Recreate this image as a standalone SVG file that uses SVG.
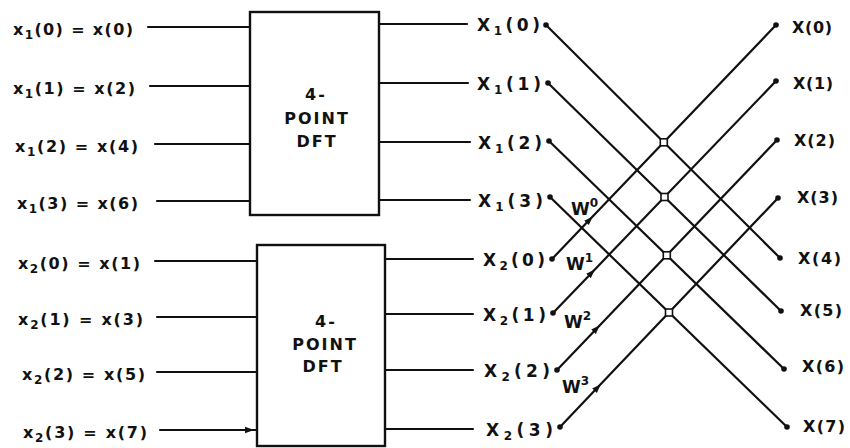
<svg xmlns="http://www.w3.org/2000/svg" width="850" height="448" viewBox="0 0 850 448">
<style>
  .ln { stroke:#111; stroke-width:2.2; fill:none; stroke-linecap:round; }
  .box { stroke:#111; stroke-width:2.4; fill:#fff; }
  .t { font-family:"DejaVu Sans","Liberation Sans",sans-serif; font-weight:bold; fill:#111; }
  .lab { font-size:16px; }
  .mid { font-size:17px; }
  .out { font-size:16px; }
  .box-t { font-size:16px; letter-spacing:2px; text-anchor:middle; }
  .w { font-size:17px; }
  .sub { font-size:12px; }
  .dot { fill:#111; }
  .sq { fill:#fff; stroke:#111; stroke-width:1.6; }
</style>
<defs>
  <marker id="arr" markerUnits="userSpaceOnUse" markerWidth="10" markerHeight="8" refX="5" refY="4" orient="auto">
    <path d="M0,0.8 L9,4 L0,7.2 z" fill="#111"/>
  </marker>
</defs>
<rect width="850" height="448" fill="#fff"/>

<g id="connectors">
  <line class="ln" x1="148" y1="27" x2="250" y2="27"/>
  <line class="ln" x1="150" y1="86" x2="250" y2="86"/>
  <line class="ln" x1="155" y1="144" x2="250" y2="144"/>
  <line class="ln" x1="157" y1="201" x2="250" y2="201"/>
  <line class="ln" x1="155" y1="261" x2="257" y2="261"/>
  <line class="ln" x1="157" y1="317" x2="257" y2="317"/>
  <line class="ln" x1="157" y1="372" x2="257" y2="372"/>
  <path class="ln" d="M160,430 L250,430 L257,430" marker-mid="url(#arr)"/>
  <line class="ln" x1="379" y1="24" x2="467" y2="24"/>
  <line class="ln" x1="379" y1="83" x2="468" y2="83"/>
  <line class="ln" x1="379" y1="142" x2="470" y2="142"/>
  <line class="ln" x1="379" y1="200" x2="470" y2="200"/>
  <line class="ln" x1="385" y1="259" x2="473" y2="259"/>
  <line class="ln" x1="385" y1="314" x2="473" y2="314"/>
  <line class="ln" x1="385" y1="370" x2="473" y2="370"/>
  <line class="ln" x1="385" y1="429" x2="473" y2="429"/>
  <line class="ln" x1="546" y1="25" x2="780" y2="258"/>
  <line class="ln" x1="548" y1="83" x2="781" y2="311"/>
  <line class="ln" x1="549" y1="141" x2="784" y2="369"/>
  <line class="ln" x1="550" y1="197" x2="787" y2="427"/>
  <path class="ln" d="M552,259 L590,219.3 L776,25" marker-mid="url(#arr)"/>
  <path class="ln" d="M553,313 L592,272.4 L776,81" marker-mid="url(#arr)"/>
  <path class="ln" d="M557,370 L597,328.2 L777,140" marker-mid="url(#arr)"/>
  <path class="ln" d="M560,427 L598,387.1 L778,198" marker-mid="url(#arr)"/>
  <rect class="sq" x="660.3" y="138.8" width="7" height="7"/>
  <rect class="sq" x="661" y="193.5" width="7" height="7"/>
  <rect class="sq" x="663.3" y="251.8" width="7" height="7"/>
  <rect class="sq" x="665.5" y="309" width="7" height="7"/>
  <circle class="dot" cx="546" cy="25" r="2.8"/>
  <circle class="dot" cx="548" cy="83" r="2.8"/>
  <circle class="dot" cx="549" cy="141" r="2.8"/>
  <circle class="dot" cx="550" cy="197" r="2.8"/>
  <circle class="dot" cx="552" cy="259" r="2.8"/>
  <circle class="dot" cx="553" cy="313" r="2.8"/>
  <circle class="dot" cx="557" cy="370" r="2.8"/>
  <circle class="dot" cx="560" cy="427" r="2.8"/>
  <circle class="dot" cx="776" cy="25" r="2.8"/>
  <circle class="dot" cx="776" cy="81" r="2.8"/>
  <circle class="dot" cx="777" cy="140" r="2.8"/>
  <circle class="dot" cx="778" cy="198" r="2.8"/>
  <circle class="dot" cx="780" cy="258" r="2.8"/>
  <circle class="dot" cx="781" cy="311" r="2.8"/>
  <circle class="dot" cx="784" cy="369" r="2.8"/>
  <circle class="dot" cx="787" cy="427" r="2.8"/>
</g>

<g id="dft1">
  <rect class="box" x="250" y="12" width="129" height="203"/>
  <text class="t box-t" x="316" y="100">4-</text>
  <text class="t box-t" x="317" y="124">POINT</text>
  <text class="t box-t" x="317" y="147">DFT</text>
</g>
<g id="dft2">
  <rect class="box" x="257" y="245" width="128" height="201"/>
  <text class="t box-t" x="326" y="327">4-</text>
  <text class="t box-t" x="325" y="350">POINT</text>
  <text class="t box-t" x="323" y="372">DFT</text>
</g>

<g id="inputs">
  <text class="t lab" x="13" y="35" textLength="120" lengthAdjust="spacing">x<tspan class="sub" dy="4">1</tspan><tspan dy="-4">(0) = x(0)</tspan></text>
  <text class="t lab" x="13" y="94" textLength="122" lengthAdjust="spacing">x<tspan class="sub" dy="4">1</tspan><tspan dy="-4">(1) = x(2)</tspan></text>
  <text class="t lab" x="15" y="152" textLength="123" lengthAdjust="spacing">x<tspan class="sub" dy="4">1</tspan><tspan dy="-4">(2) = x(4)</tspan></text>
  <text class="t lab" x="17" y="209" textLength="121" lengthAdjust="spacing">x<tspan class="sub" dy="4">1</tspan><tspan dy="-4">(3) = x(6)</tspan></text>
  <text class="t lab" x="18" y="269" textLength="122" lengthAdjust="spacing">x<tspan class="sub" dy="4">2</tspan><tspan dy="-4">(0) = x(1)</tspan></text>
  <text class="t lab" x="18" y="325" textLength="125" lengthAdjust="spacing">x<tspan class="sub" dy="4">2</tspan><tspan dy="-4">(1) = x(3)</tspan></text>
  <text class="t lab" x="22" y="380" textLength="123" lengthAdjust="spacing">x<tspan class="sub" dy="4">2</tspan><tspan dy="-4">(2) = x(5)</tspan></text>
  <text class="t lab" x="23" y="438" textLength="124" lengthAdjust="spacing">x<tspan class="sub" dy="4">2</tspan><tspan dy="-4">(3) = x(7)</tspan></text>
</g>

<g id="dft-outputs">
  <text class="t mid" x="477" y="31" textLength="63" lengthAdjust="spacing">X<tspan class="sub" dy="4">1</tspan><tspan dy="-4">(0)</tspan></text>
  <text class="t mid" x="477" y="90" textLength="64" lengthAdjust="spacing">X<tspan class="sub" dy="4">1</tspan><tspan dy="-4">(1)</tspan></text>
  <text class="t mid" x="478" y="149" textLength="64" lengthAdjust="spacing">X<tspan class="sub" dy="4">1</tspan><tspan dy="-4">(2)</tspan></text>
  <text class="t mid" x="478" y="207" textLength="65" lengthAdjust="spacing">X<tspan class="sub" dy="4">1</tspan><tspan dy="-4">(3)</tspan></text>
  <text class="t mid" x="483" y="266" textLength="62" lengthAdjust="spacing">X<tspan class="sub" dy="4">2</tspan><tspan dy="-4">(0)</tspan></text>
  <text class="t mid" x="483" y="321" textLength="63" lengthAdjust="spacing">X<tspan class="sub" dy="4">2</tspan><tspan dy="-4">(1)</tspan></text>
  <text class="t mid" x="484" y="377" textLength="66" lengthAdjust="spacing">X<tspan class="sub" dy="4">2</tspan><tspan dy="-4">(2)</tspan></text>
  <text class="t mid" x="486" y="436" textLength="67" lengthAdjust="spacing">X<tspan class="sub" dy="4">2</tspan><tspan dy="-4">(3)</tspan></text>
</g>

<g id="twiddles">
  <text class="t w" x="571" y="215">W<tspan class="sub" dy="-8">0</tspan></text>
  <text class="t w" x="566" y="270">W<tspan class="sub" dy="-8">1</tspan></text>
  <text class="t w" x="564" y="328">W<tspan class="sub" dy="-8">2</tspan></text>
  <text class="t w" x="562" y="393">W<tspan class="sub" dy="-8">3</tspan></text>
</g>

<g id="outputs">
  <text class="t out" x="792" y="33" textLength="40" lengthAdjust="spacing">X(0)</text>
  <text class="t out" x="793" y="89" textLength="40" lengthAdjust="spacing">X(1)</text>
  <text class="t out" x="794" y="146" textLength="41" lengthAdjust="spacing">X(2)</text>
  <text class="t out" x="797" y="203" textLength="41" lengthAdjust="spacing">X(3)</text>
  <text class="t out" x="798" y="264" textLength="43" lengthAdjust="spacing">X(4)</text>
  <text class="t out" x="800" y="316" textLength="42" lengthAdjust="spacing">X(5)</text>
  <text class="t out" x="802" y="372" textLength="42" lengthAdjust="spacing">X(6)</text>
  <text class="t out" x="803" y="432" textLength="42" lengthAdjust="spacing">X(7)</text>
</g>
</svg>
